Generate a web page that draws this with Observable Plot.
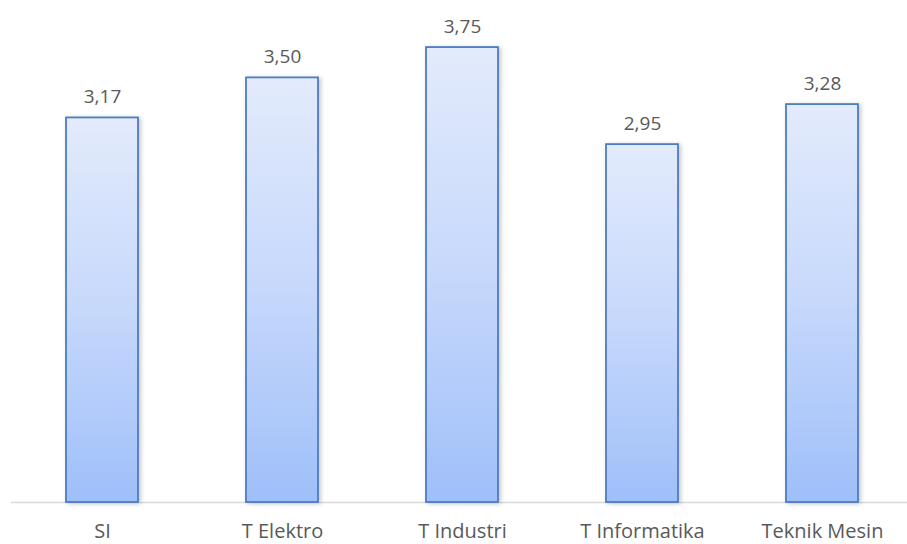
<!DOCTYPE html>
<html><head><meta charset="utf-8">
<script src="https://cdn.jsdelivr.net/npm/d3@7"></script>
<script src="https://cdn.jsdelivr.net/npm/@observablehq/plot@0.6"></script>
<style>body{margin:0;background:#fff;overflow:hidden}</style>
</head><body><div id="chart"></div>
<script>
const categories = ["SI", "T Elektro", "T Industri", "T Informatika", "Teknik Mesin"];
const values = [3.17, 3.50, 3.75, 2.95, 3.28];
const labels = ["3,17", "3,50", "3,75", "2,95", "3,28"];
const data = categories.map((c, i) => ({cat: c, value: values[i], label: labels[i]}));

const defs = () => {
  const ns = "http://www.w3.org/2000/svg";
  const d = document.createElementNS(ns, "defs");
  d.innerHTML = `<linearGradient id="barGrad" x1="0" y1="0" x2="0" y2="1">
      <stop offset="0" stop-color="#e3ebfc"/>
      <stop offset="0.5" stop-color="#c6d8fb"/>
      <stop offset="1" stop-color="#9fbff9"/></linearGradient>
    <filter id="shadow" x="-20%" y="-5%" width="150%" height="115%">
      <feDropShadow dx="2" dy="1" stdDeviation="2" flood-color="#000" flood-opacity="0.22"/></filter>`;
  return d;
};

const chart = Plot.plot({
  width: 907,
  height: 544,
  marginLeft: 11,
  marginRight: -6.5,
  marginTop: 0,
  marginBottom: 42,
  style: {fontFamily: "'Open Sans', sans-serif", fontSize: "19px", color: "#595959", background: "#fff"},
  x: {domain: categories, paddingInner: 0.6, paddingOuter: 0.3, axis: null},
  y: {domain: [0, 4.138], axis: null},
  marks: [
    defs,
    Plot.ruleY([0], {stroke: "#d9d9d9", strokeWidth: 1.5}),
    Plot.barY(data, {x: "cat", y: "value", fill: "url(#barGrad)", stroke: "#4d7dbf", strokeWidth: 1.8}),
    Plot.axisX({tickSize: 0, tickPadding: 21, label: null, fontSize: 20, fill: "#595959"}),
    Plot.text(data, {x: "cat", y: "value", text: "label", dy: -21, fill: "#595959", fontSize: 19})
  ]
});
chart.querySelectorAll("g[aria-label='bar'] rect").forEach(r => r.setAttribute("filter", "url(#shadow)"));
document.getElementById("chart").appendChild(chart);
</script></body></html>
